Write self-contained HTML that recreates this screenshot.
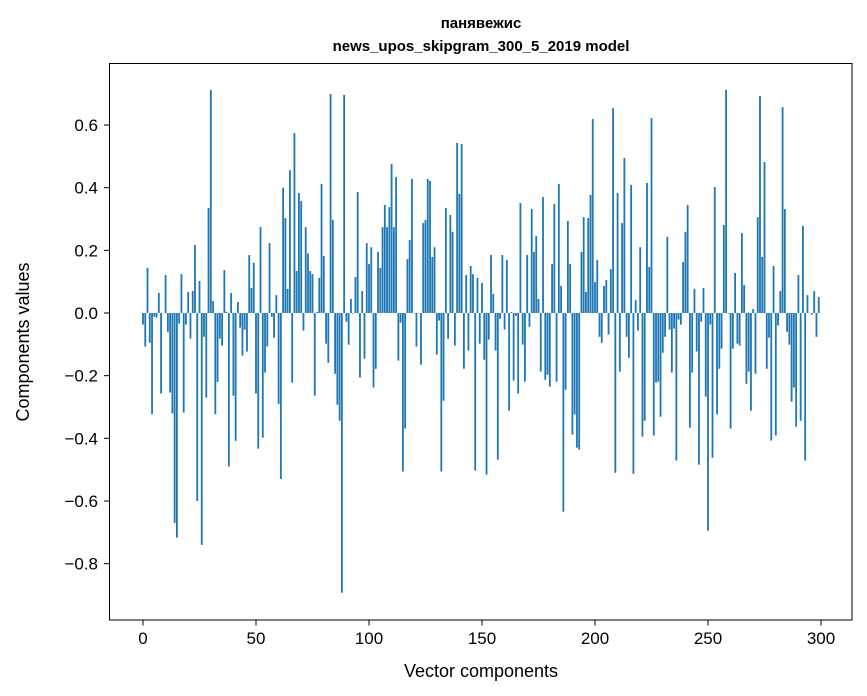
<!DOCTYPE html>
<html><head><meta charset="utf-8"><style>
html,body{margin:0;padding:0;background:#fff;}
svg{display:block;font-family:"Liberation Sans","DejaVu Sans",sans-serif;}
</style></head><body>
<svg id="chart" width="867" height="696" viewBox="0 0 867 696">
<rect width="867" height="696" fill="#fff"/>
<text x="481" y="28" text-anchor="middle" font-size="15" font-weight="bold">панявежис</text>
<text x="481" y="51" text-anchor="middle" font-size="15" font-weight="bold">news_upos_skipgram_300_5_2019 model</text>
<g id="bars"></g>
<g id="yticks"></g>
<g id="xticks"></g>
<rect x="109.5" y="63.5" width="742.5" height="556.5" fill="none" stroke="#000" stroke-width="1"/>
<text x="481" y="677" text-anchor="middle" font-size="18">Vector components</text>
<text transform="translate(29,342) rotate(-90)" text-anchor="middle" font-size="18">Components values</text>
</svg>
<script>
const values = [-0.037,-0.107,0.144,-0.095,-0.323,-0.012,-0.015,0.064,-0.257,0,
0.121,-0.06,-0.254,-0.32,-0.67,-0.717,-0.034,0.124,-0.318,-0.037,
0.067,-0.082,0.07,0.217,-0.6,0.102,-0.74,-0.076,-0.27,0.335,
0.712,0.038,-0.323,-0.22,-0.082,-0.104,0.137,0.004,-0.49,0.064,
-0.264,-0.408,0.035,-0.047,-0.136,-0.053,-0.123,0.185,0.08,0.16,
-0.257,-0.433,0.274,-0.398,-0.19,-0.107,0.223,-0.012,-0.079,0.057,
-0.29,-0.53,0.4,0.303,0.077,0.456,-0.222,0.574,0.134,0.383,
0.357,-0.056,0.274,0.19,0.134,0.124,-0.264,0.003,0.112,0.412,
0.182,-0.098,-0.159,0.699,0.297,-0.194,-0.293,-0.344,-0.893,0.696,
-0.028,-0.101,0.045,-0.002,0.115,0.386,-0.206,0.07,-0.146,0.223,
0.156,0.21,-0.238,-0.178,0.195,0.144,0.274,0.345,0.274,0.338,
0.476,0.274,0.434,-0.152,-0.031,-0.506,-0.369,0.172,0.233,0.428,
0,-0.107,0,-0.165,0.287,0.297,0.428,0.421,0.179,0.21,
-0.133,-0.024,-0.506,-0.28,0.335,-0.082,0.313,0.259,-0.104,0.543,
0.38,0.539,-0.178,0.121,-0.12,0.15,0.124,-0.503,0.112,-0.098,
0.096,-0.149,-0.516,-0.085,0.185,0.061,-0.12,-0.468,-0.018,0.185,
-0.053,0.169,-0.312,0.003,-0.216,-0.009,-0.257,0.351,-0.101,-0.219,
0.185,-0.044,0.332,0.195,0.246,0.045,-0.187,0.37,-0.213,-0.197,
-0.235,0.156,0.348,-0.219,0.412,0.086,-0.634,-0.245,0.294,0.156,
-0.388,-0.324,-0.43,-0.436,0.195,0.306,0.067,0.303,0.377,0.619,
0.099,0.169,-0.076,-0.095,0.086,0.105,-0.069,0.14,0.654,-0.51,
0.383,-0.187,0.287,0.495,-0.076,-0.143,0.409,-0.513,0.041,-0.056,
0.21,-0.395,-0.344,0.415,0.147,0.622,-0.391,-0.222,-0.219,-0.331,
-0.127,-0.076,0.243,-0.053,-0.19,-0.05,-0.471,-0.021,-0.037,0.163,
0.259,0.345,-0.366,-0.19,0.077,-0.123,-0.484,-0.028,0.08,-0.267,
-0.695,-0.037,-0.462,0.402,-0.324,-0.178,-0.114,0.281,0.712,-0.002,
-0.369,-0.114,0.128,-0.098,-0.104,0.255,0.089,-0.226,-0.187,-0.312,
0.013,-0.194,0.306,0.693,0.179,0.482,-0.178,-0.079,-0.407,0.15,
-0.391,-0.04,0.07,0.657,0.332,-0.06,-0.101,-0.283,-0.238,-0.363,
0.121,-0.344,0.278,-0.471,0.057,0,-0.005,0.07,-0.076,0.051];
const yTicks = [0.6,0.4,0.2,0.0,-0.2,-0.4,-0.6,-0.8];
const xTicks = [0,50,100,150,200,250,300];

const NS="http://www.w3.org/2000/svg";
function xs(v){return 143+v*2.26;}
function ys(v){return 313-v*313.3;}
const bars=document.getElementById('bars');
values.forEach((v,i)=>{
  const r=document.createElementNS(NS,'rect');
  const y0=ys(0), y1=ys(v);
  r.setAttribute('x',xs(i-0.4));
  r.setAttribute('width',0.8*2.26);
  r.setAttribute('y',Math.min(y0,y1));
  r.setAttribute('height',Math.max(Math.abs(y1-y0),0.3));
  r.setAttribute('fill','#1f77b4');
  
  
  bars.appendChild(r);
});
const yg=document.getElementById('yticks');
yTicks.forEach(t=>{
  const y=ys(t);
  const l=document.createElementNS(NS,'line');
  l.setAttribute('x1',104);l.setAttribute('x2',109.5);
  l.setAttribute('y1',y);l.setAttribute('y2',y);
  l.setAttribute('stroke','#000');
  
  
  yg.appendChild(l);
  const tx=document.createElementNS(NS,'text');
  tx.setAttribute('x',98);tx.setAttribute('y',y+6);
  tx.setAttribute('text-anchor','end');tx.setAttribute('font-size','17');
  tx.textContent=(t<0?'\u2212':'')+Math.abs(t).toFixed(1);
  
  
  yg.appendChild(tx);
});
const xg=document.getElementById('xticks');
xTicks.forEach(t=>{
  const x=xs(t);
  const l=document.createElementNS(NS,'line');
  l.setAttribute('x1',x);l.setAttribute('x2',x);
  l.setAttribute('y1',620);l.setAttribute('y2',625.5);
  l.setAttribute('stroke','#000');
  
  
  xg.appendChild(l);
  const tx=document.createElementNS(NS,'text');
  tx.setAttribute('x',x);tx.setAttribute('y',644);
  tx.setAttribute('text-anchor','middle');tx.setAttribute('font-size','17');
  tx.textContent=t;
  
  
  xg.appendChild(tx);
});
</script>
</body></html>
